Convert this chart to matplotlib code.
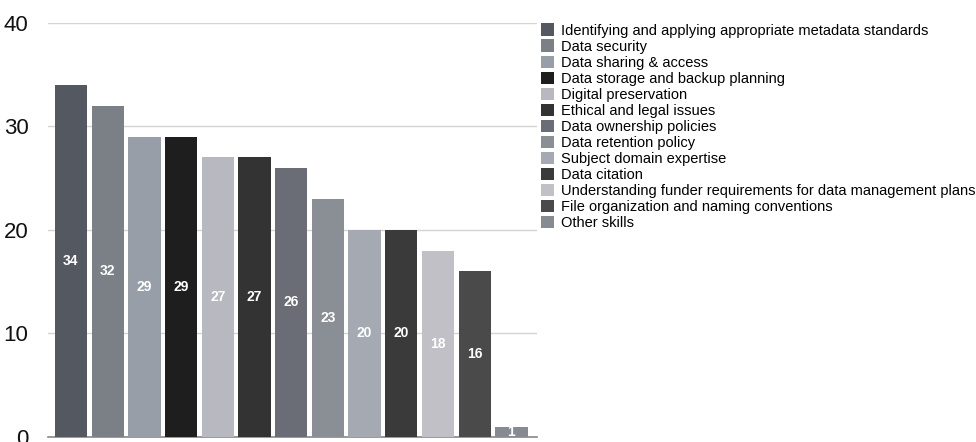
import matplotlib.pyplot as plt
import numpy as np

# Dane
kategorie = [
    "Identifying and applying appropriate metadata standards",
    "Data security",
    "Data sharing & access",
    "Data storage and backup planning",
    "Digital preservation",
    "Ethical and legal issues",
    "Data ownership policies",
    "Data retention policy",
    "Subject domain expertise",
    "Data citation",
    "Understanding funder requirements for data management plans",
    "File organization and naming conventions",
    "Other skills",
]
wartosci = [34, 32, 29, 29, 27, 27, 26, 23, 20, 20, 18, 16, 1]
kolory = ["#545860", "#7b7f86", "#979ea7", "#1e1e1e", "#b8b8c0", "#333333",
          "#6a6d75", "#8a8f96", "#a5aab2", "#3a3a3a", "#c0c0c6", "#4a4a4a",
          "#868b92"]

plt.rcParams['font.family'] = ['Liberation Sans', 'DejaVu Sans']

fig = plt.figure(figsize=(9.76, 4.42), dpi=100)
ax = fig.add_axes([0.049, 0.0113, 0.501, 0.9373])

x = np.arange(len(wartosci))
slupki = ax.bar(x, wartosci, width=0.88, color=kolory, zorder=3)

# etykiety wartosci w srodku slupkow (obciete do slupka)
for xi, val, p in zip(x, wartosci, slupki.patches):
    t = ax.text(xi, val / 2, str(val), ha='center', va='center',
                color='white', fontsize=10, fontweight='bold', zorder=4)
    t.set_clip_path(p)

ax.set_ylim(0, 40)
ax.set_xlim(-0.63, 12.69)
ax.set_yticks([0, 10, 20, 30, 40])
ax.set_xticks([])
ax.yaxis.grid(True, color='#d4d4d4', linewidth=1, zorder=0)
ax.tick_params(axis='y', length=0, labelsize=16, pad=14, labelcolor='#111111')
for s in ['top', 'right', 'left']:
    ax.spines[s].set_visible(False)
ax.spines['bottom'].set_color('#888888')
ax.spines['bottom'].set_linewidth(1.2)

fig.legend(slupki, kategorie, loc='upper left', bbox_to_anchor=(0.554, 0.947),
           frameon=False, fontsize=10.5, handlelength=0.9, handleheight=0.9,
           handletextpad=0.5, labelspacing=0.135, borderaxespad=0,
           borderpad=0)

fig.savefig('out.png', dpi=100)
